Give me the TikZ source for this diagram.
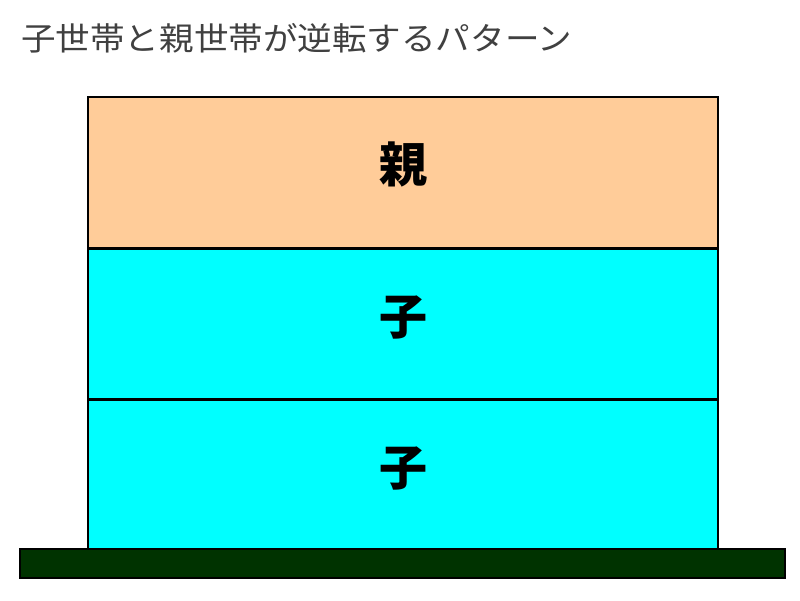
\documentclass[tikz,border=0pt]{standalone}
\usepackage{fontspec}
\newfontfamily\cjk{Noto Sans CJK JP}
\definecolor{oyapeach}{HTML}{FFCC99}
\definecolor{kocyan}{HTML}{00FFFF}
\definecolor{jimen}{HTML}{003300}
\begin{document}
\begin{tikzpicture}[x=1pt,y=-1pt,
    floor/.style={draw=black,line width=2.5pt,inner sep=0pt,minimum width=630pt,minimum height=151pt,
      text height=38pt,text depth=18pt,font=\cjk\bfseries\fontsize{48}{48}\selectfont},
    ground/.style={draw=black,line width=2pt,fill=jimen,inner sep=0pt,minimum width=765pt,minimum height=29pt}]
  \useasboundingbox (0,0) rectangle (800,600);

  \node[anchor=west,inner sep=0pt,xscale=1.08,text=black!75,font=\cjk\fontsize{32}{32}\selectfont] (title) at (21,38) {子世帯と親世帯が逆転するパターン};%

  \node[floor,fill=oyapeach] (oya) at (403,172.5) {親};%
  \node[floor,fill=kocyan] (ko1) at (403,324) {子};%
  \node[floor,fill=kocyan] (ko2) at (403,475) {子};%

  \node[ground] (ground) at (402.5,563.5) {};%
\end{tikzpicture}
\end{document}
